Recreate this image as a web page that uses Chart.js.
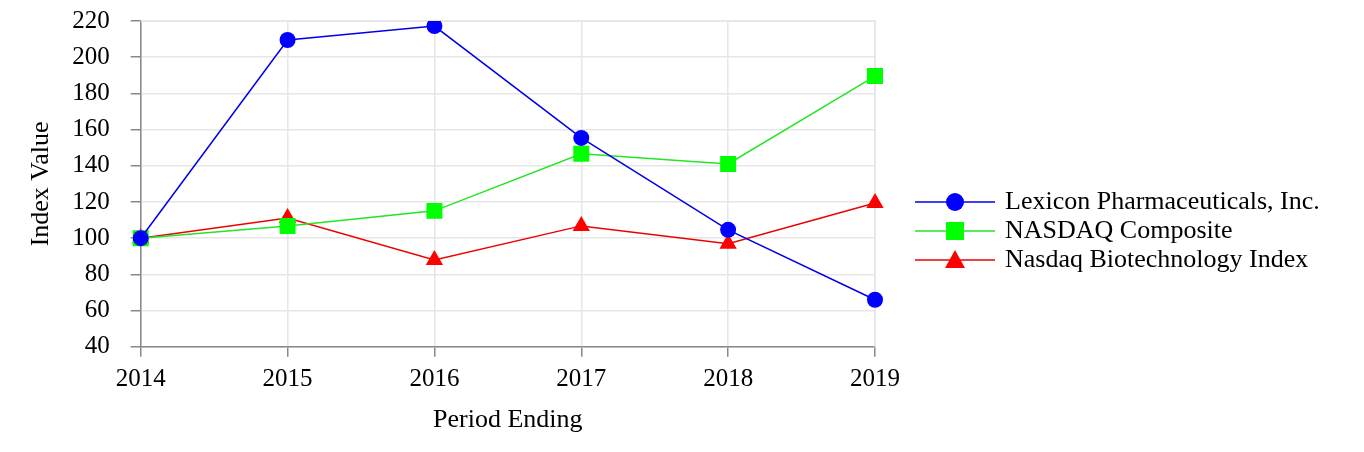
<!DOCTYPE html>
<html>
<head>
<meta charset="utf-8">
<script src="https://cdn.jsdelivr.net/npm/chart.js@4.4.1/dist/chart.umd.min.js"></script>
<style>
  html, body { margin: 0; padding: 0; background: #fff; }
  #wrap { width: 1364px; height: 452px; position: relative; }
</style>
</head>
<body>
<div id="wrap"><canvas id="chart" width="1364" height="452"></canvas></div>
<script>
const years = ['2014', '2015', '2016', '2017', '2018', '2019'];
const lexicon = [100, 209.5, 217.2, 155.4, 104.6, 66];
const nasdaqComposite = [100, 106.8, 115.1, 146.6, 141, 189.6];
const nasdaqBiotech = [100, 111.2, 88, 106.8, 96.9, 119.5];
const yTicks = [40, 60, 80, 100, 120, 140, 160, 180, 200, 220];

const FONT = "'Liberation Serif', 'Times New Roman', serif";

const series = [
    { label: 'Lexicon Pharmaceuticals, Inc.', data: lexicon, line: '#0000e6', fill: '#0000ff', shape: 'circle', r: 8 },
    { label: 'NASDAQ Composite', data: nasdaqComposite, line: '#22e622', fill: '#00ff00', shape: 'rect', r: 11.3 },
    { label: 'Nasdaq Biotechnology Index', data: nasdaqBiotech, line: '#ee0000', fill: '#ff0000', shape: 'triangle', r: 10 },
];

const datasets = series.map(s => ({
    label: s.label,
    data: s.data,
    borderColor: s.line,
    backgroundColor: s.fill,
    pointBackgroundColor: s.fill,
    pointBorderWidth: 0,
    pointStyle: s.shape,
    pointRadius: s.r,
    borderWidth: 1.5,
    tension: 0,
}));

// legend drawn by hand: line with the marker in the middle, then the name
const sideLegend = {
    id: 'sideLegend',
    afterDraw(chart) {
        const { ctx } = chart;
        const x0 = chart.chartArea.right + 40;
        ctx.save();
        series.forEach((s, i) => {
            const y = 202 + i * 29;
            ctx.strokeStyle = s.line; ctx.lineWidth = 1.5;
            ctx.beginPath(); ctx.moveTo(x0, y); ctx.lineTo(x0 + 80, y); ctx.stroke();
            ctx.fillStyle = s.fill;
            ctx.beginPath();
            if (s.shape === 'circle') ctx.arc(x0 + 40, y, 9, 0, Math.PI * 2);
            else if (s.shape === 'rect') ctx.rect(x0 + 31, y - 9, 18, 18);
            else { ctx.moveTo(x0 + 40, y - 10); ctx.lineTo(x0 + 50, y + 8); ctx.lineTo(x0 + 30, y + 8); ctx.closePath(); }
            ctx.fill();
            ctx.fillStyle = '#000';
            ctx.font = `26px ${FONT}`;
            ctx.textBaseline = 'middle';
            ctx.fillText(s.label, x0 + 90, y);
        });
        ctx.restore();
    },
};

const frame = {
    id: 'frame',
    beforeDatasetsDraw(chart) {
        const { ctx, chartArea: a } = chart;
        ctx.save();
        ctx.strokeStyle = '#e6e6e6';
        ctx.lineWidth = 1.5;
        ctx.beginPath();
        ctx.moveTo(a.left, a.top); ctx.lineTo(a.right, a.top); ctx.lineTo(a.right, a.bottom);
        ctx.stroke();
        ctx.restore();
    },
};

new Chart(document.getElementById('chart'), {
    type: 'line',
    data: { labels: years, datasets },
    options: {
        responsive: false,
        animation: false,
        layout: { padding: { left: 26, right: 489, top: 21, bottom: 16 } },
        plugins: {
            legend: { display: false },
            tooltip: { enabled: false },
        },
        scales: {
            x: {
                offset: false,
                grid: { color: '#e6e6e6', lineWidth: 1.5, tickLength: 10, tickColor: '#888' },
                border: { color: '#888', width: 1.5 },
                ticks: { color: '#000', font: { family: FONT, size: 25 }, padding: 8, maxRotation: 0 },
                title: { display: true, text: 'Period Ending', color: '#000', font: { family: FONT, size: 26 }, padding: { top: 2, bottom: 0 } },
            },
            y: {
                min: 40, max: 220,
                afterBuildTicks: axis => { axis.ticks = yTicks.map(v => ({ value: v })); },
                // the tick padding otherwise pushes the plot top down
                afterFit: axis => { axis.paddingTop = 0; axis.paddingBottom = 0; },
                grid: { color: '#e6e6e6', lineWidth: 1.5, tickLength: 10, tickColor: '#888' },
                border: { color: '#888', width: 1.5 },
                ticks: { color: '#000', font: { family: FONT, size: 25 }, padding: 21 },
                title: { display: true, text: 'Index Value', color: '#000', font: { family: FONT, size: 26 }, padding: { top: 0, bottom: -6 } },
            },
        },
    },
    plugins: [frame, sideLegend],
});
</script>
</body>
</html>
